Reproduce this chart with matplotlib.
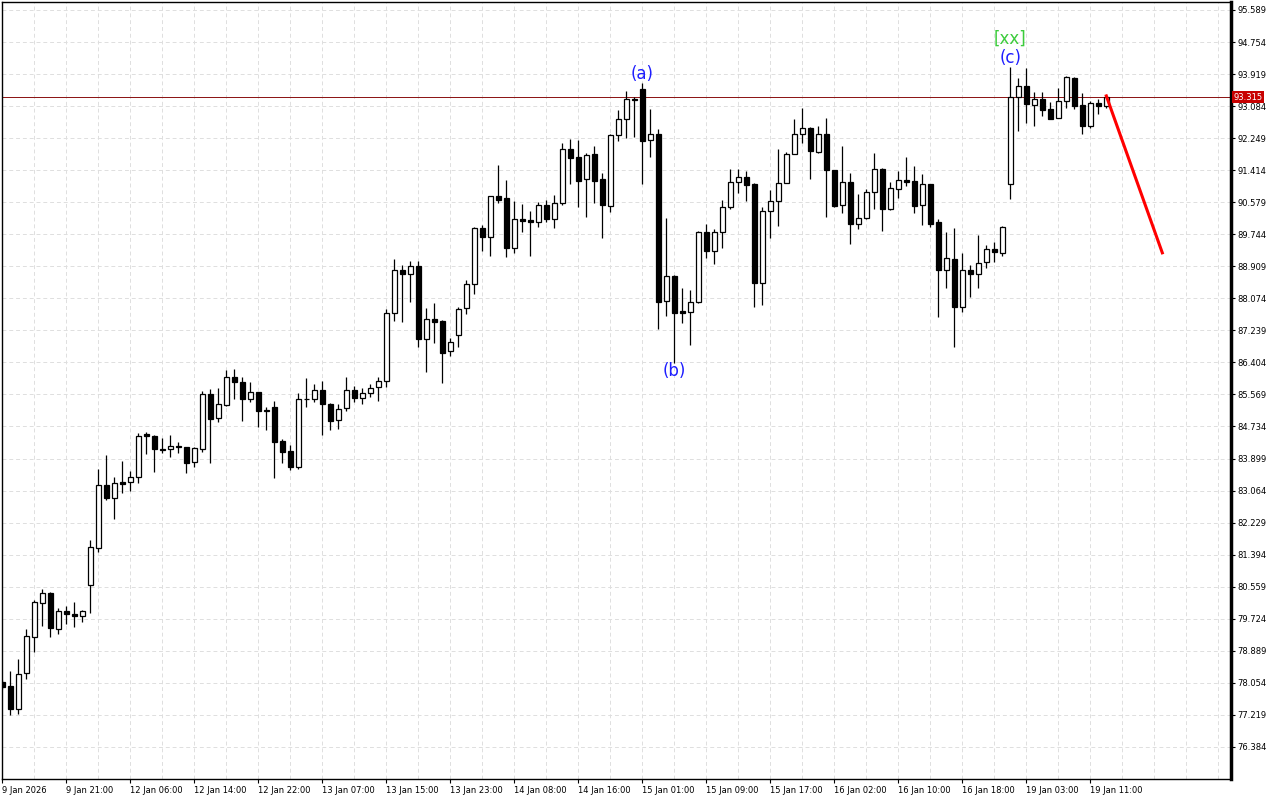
import numpy as np
import matplotlib.pyplot as plt

# Datos OHLC (velas de 1 hora)
opens = [78.08, 77.97, 77.37, 78.31, 79.25, 80.13, 80.39, 79.46, 79.93, 79.85,
         79.80, 80.60, 81.57, 83.21, 82.87, 83.29, 83.29, 83.42, 84.54, 84.49,
         84.15, 84.15, 84.23, 84.20, 83.81, 84.15, 85.58, 84.96, 85.29, 86.02,
         85.89, 85.45, 85.63, 85.16, 85.24, 84.36, 84.10, 83.68, 85.46, 85.45,
         85.69, 85.32, 84.90, 85.22, 85.69, 85.48, 85.61, 85.76, 85.92, 87.69,
         88.81, 88.71, 88.92, 87.02, 87.54, 87.48, 86.70, 87.12, 87.82, 88.45,
         89.91, 89.67, 90.74, 90.69, 89.39, 90.14, 90.12, 90.06, 90.51, 90.14,
         90.56, 91.97, 91.76, 91.18, 91.84, 91.18, 90.48, 92.33, 92.75, 93.26,
         93.53, 92.20, 92.36, 88.01, 88.66, 87.74, 87.72, 87.98, 89.80, 89.31,
         89.80, 90.46, 91.11, 91.24, 91.05, 88.47, 90.35, 90.61, 91.08, 91.84,
         92.36, 92.51, 91.89, 92.36, 91.42, 90.51, 91.11, 90.01, 90.17, 90.85,
         91.45, 90.40, 90.92, 91.16, 91.13, 90.51, 91.05, 90.06, 88.81, 89.10,
         87.85, 88.81, 88.71, 89.02, 89.36, 89.26, 91.05, 93.32, 93.61, 93.11,
         93.27, 93.01, 92.78, 93.22, 93.82, 93.11, 92.57, 93.17, 93.09]
highs = [78.13, 78.36, 78.67, 79.46, 80.21, 80.50, 80.42, 80.00, 80.06, 80.16,
         79.95, 81.78, 83.63, 83.99, 83.42, 83.84, 83.57, 84.57, 84.59, 84.50,
         84.44, 84.51, 84.33, 84.21, 84.20, 85.66, 85.71, 85.74, 86.21, 86.23,
         86.02, 85.89, 85.64, 85.24, 85.40, 84.41, 84.25, 85.61, 86.00, 85.84,
         85.92, 85.35, 85.32, 86.02, 85.79, 85.74, 85.84, 86.02, 87.80, 89.10,
         88.94, 89.05, 89.05, 87.82, 87.95, 87.51, 87.04, 87.85, 88.55, 89.93,
         89.99, 90.75, 91.55, 91.16, 90.61, 90.53, 90.35, 90.59, 90.64, 90.77,
         92.12, 92.23, 92.20, 91.86, 92.05, 91.34, 92.36, 92.98, 93.48, 93.32,
         93.69, 93.01, 92.49, 90.17, 88.68, 88.34, 88.29, 89.83, 90.01, 89.88,
         90.64, 91.45, 91.45, 91.39, 91.08, 90.46, 90.90, 91.97, 91.89, 92.75,
         93.04, 92.54, 92.57, 92.78, 91.43, 92.05, 91.34, 90.79, 90.92, 91.86,
         91.47, 91.11, 91.39, 91.76, 91.52, 91.32, 91.06, 90.14, 89.80, 89.91,
         89.26, 88.94, 89.73, 89.47, 89.54, 89.96, 94.10, 93.82, 94.08, 93.45,
         93.45, 93.19, 93.56, 93.87, 93.84, 93.43, 93.22, 93.27, 93.37]
lows = [77.89, 77.22, 77.24, 78.15, 78.86, 79.53, 79.25, 79.33, 79.59, 79.51,
        79.64, 79.87, 81.46, 82.82, 82.32, 83.00, 83.05, 83.26, 84.02, 83.55,
        84.04, 83.94, 84.04, 83.52, 83.68, 84.07, 83.78, 84.85, 85.28, 85.45,
        84.88, 85.37, 84.72, 84.64, 83.39, 83.78, 83.60, 83.63, 85.24, 85.37,
        84.51, 84.64, 84.67, 85.14, 85.37, 85.32, 85.50, 85.40, 85.76, 87.48,
        87.46, 87.98, 86.81, 86.15, 86.91, 85.87, 86.57, 86.81, 87.67, 88.19,
        89.31, 89.18, 90.56, 89.15, 89.26, 89.80, 89.18, 89.93, 90.06, 89.91,
        90.51, 91.05, 90.46, 90.19, 90.56, 89.65, 90.32, 92.18, 92.25, 92.28,
        91.05, 91.76, 87.28, 87.61, 86.39, 87.43, 86.86, 87.95, 89.13, 88.97,
        89.39, 90.40, 90.82, 90.61, 87.85, 87.90, 89.65, 89.96, 91.07, 91.83,
        92.12, 91.18, 91.86, 90.19, 90.46, 90.30, 89.49, 89.88, 90.14, 90.40,
        89.83, 90.38, 90.69, 91.00, 90.30, 89.99, 89.93, 87.59, 88.34, 86.81,
        87.72, 88.11, 88.34, 88.87, 89.02, 89.18, 90.66, 92.44, 92.64, 92.57,
        92.83, 92.74, 92.77, 93.03, 93.01, 92.36, 92.51, 92.88, 93.03]
closes = [77.95, 77.37, 78.28, 79.27, 80.16, 80.39, 79.48, 79.93, 79.85, 79.80,
          79.93, 81.59, 83.21, 82.87, 83.26, 83.24, 83.42, 84.49, 84.49, 84.15,
          84.12, 84.23, 84.20, 83.78, 84.17, 85.58, 84.93, 85.32, 86.02, 85.89,
          85.45, 85.63, 85.14, 85.14, 84.33, 84.07, 83.68, 85.45, 85.45, 85.69,
          85.32, 84.88, 85.19, 85.69, 85.48, 85.61, 85.74, 85.92, 87.69, 88.81,
          88.71, 88.92, 87.02, 87.54, 87.46, 86.65, 86.94, 87.80, 88.45, 89.91,
          89.67, 90.74, 90.64, 89.39, 90.14, 90.09, 90.06, 90.51, 90.14, 90.56,
          91.97, 91.73, 91.13, 91.81, 91.13, 90.51, 92.33, 92.75, 93.26, 93.23,
          92.18, 92.36, 87.98, 88.66, 87.69, 87.69, 87.98, 89.80, 89.31, 89.80,
          90.46, 91.11, 91.24, 91.03, 88.47, 90.35, 90.61, 91.08, 91.84, 92.36,
          92.51, 91.91, 92.36, 91.42, 90.48, 91.11, 90.01, 90.17, 90.85, 91.45,
          90.40, 90.95, 91.16, 91.11, 90.48, 91.05, 90.01, 88.81, 89.13, 87.85,
          88.81, 88.71, 89.00, 89.36, 89.28, 89.93, 93.32, 93.61, 93.14, 93.27,
          92.98, 92.75, 93.22, 93.84, 93.09, 92.57, 93.17, 93.09, 93.315]

# Etiquetas del eje de tiempo (una cada 8 velas)
time_labels = ['9 Jan 2026', '9 Jan 21:00', '12 Jan 06:00', '12 Jan 14:00',
               '12 Jan 22:00', '13 Jan 07:00', '13 Jan 15:00', '13 Jan 23:00',
               '14 Jan 08:00', '14 Jan 16:00', '15 Jan 01:00', '15 Jan 09:00',
               '15 Jan 17:00', '16 Jan 02:00', '16 Jan 10:00', '16 Jan 18:00',
               '19 Jan 03:00', '19 Jan 11:00']

# Niveles del eje de precios
price_ticks = [76.384, 77.219, 78.054, 78.889, 79.724, 80.559, 81.394, 82.229,
               83.064, 83.899, 84.734, 85.569, 86.404, 87.239, 88.074, 88.909,
               89.744, 90.579, 91.414, 92.249, 93.084, 93.919, 94.754, 95.589]

last_price = 93.315

# Proyeccion (linea roja) y etiquetas de ondas
proj_bars = [138, 145]
proj_prices = [93.35, 89.26]
wave_labels = ['(a)', '(b)', '(c)']
wave_bars = [80, 84, 126]
wave_prices = [93.92, 86.18, 94.34]

opens = np.array(opens)
highs = np.array(highs)
lows = np.array(lows)
closes = np.array(closes)
x = np.arange(len(opens))

fig = plt.figure(figsize=(12.8, 8), dpi=100)
ax = fig.add_axes([2 / 1280, 21 / 800, 1229 / 1280, 777 / 800])

# Cuadricula punteada
grid_color = '#dedede'
for gx in range(0, 154, 4):
    ax.axvline(gx, color=grid_color, linestyle=(0, (4, 3)), linewidth=0.7, zorder=0)
for gy in price_ticks:
    ax.axhline(gy, color=grid_color, linestyle=(0, (4, 3)), linewidth=0.7, zorder=0)

# Mechas
ax.vlines(x, lows, highs, colors='black', linewidth=0.9, zorder=2)

# Cuerpos de las velas
up = closes >= opens
bottoms = np.minimum(opens, closes)
heights = np.abs(closes - opens)
ax.bar(x[up], heights[up], bottom=bottoms[up], width=0.62,
       facecolor='white', edgecolor='black', linewidth=0.9, zorder=3)
ax.bar(x[~up], heights[~up], bottom=bottoms[~up], width=0.62,
       facecolor='black', edgecolor='black', linewidth=0.9, zorder=3)

# Linea del precio actual
ax.axhline(last_price, color='#8a1010', linewidth=0.7, zorder=1)
ax.text(1.0022, last_price, f'{last_price:.3f}', transform=ax.get_yaxis_transform(),
        fontsize=6, color='white', va='center', ha='left',
        bbox=dict(boxstyle='square,pad=0.15', facecolor='#c80000', edgecolor='none'),
        zorder=6, clip_on=False)

# Proyeccion
ax.plot(proj_bars, proj_prices, color='#ff0000', linewidth=2.2, zorder=4)

# Etiquetas de ondas
for lab, b, p in zip(wave_labels, wave_bars, wave_prices):
    ax.text(b, p, lab, color='#1e1eff', fontsize=12, ha='center', va='center', zorder=5)
ax.text(wave_bars[2], 94.83, '[xx]', color='#3ccc3c', fontsize=12,
        ha='center', va='center', zorder=5)

# Ejes
ax.set_xlim(-0.04, 153.585)
ax.set_ylim(75.547, 95.797)

ax.yaxis.tick_right()
ax.set_yticks(price_ticks)
ax.set_yticklabels([f'{p:.3f}' for p in price_ticks])
ax.tick_params(axis='y', direction='out', length=3, width=0.8, pad=1.5, labelsize=6)

ax.set_xticks(np.arange(0, 8 * len(time_labels), 8))
ax.set_xticklabels(time_labels, ha='left')
ax.tick_params(axis='x', direction='out', length=3, width=0.8, pad=2, labelsize=6)

for side in ['top', 'left', 'bottom']:
    ax.spines[side].set_linewidth(1.0)
ax.spines['right'].set_linewidth(2.5)

fig.savefig('out.png', dpi=100, facecolor='white')
